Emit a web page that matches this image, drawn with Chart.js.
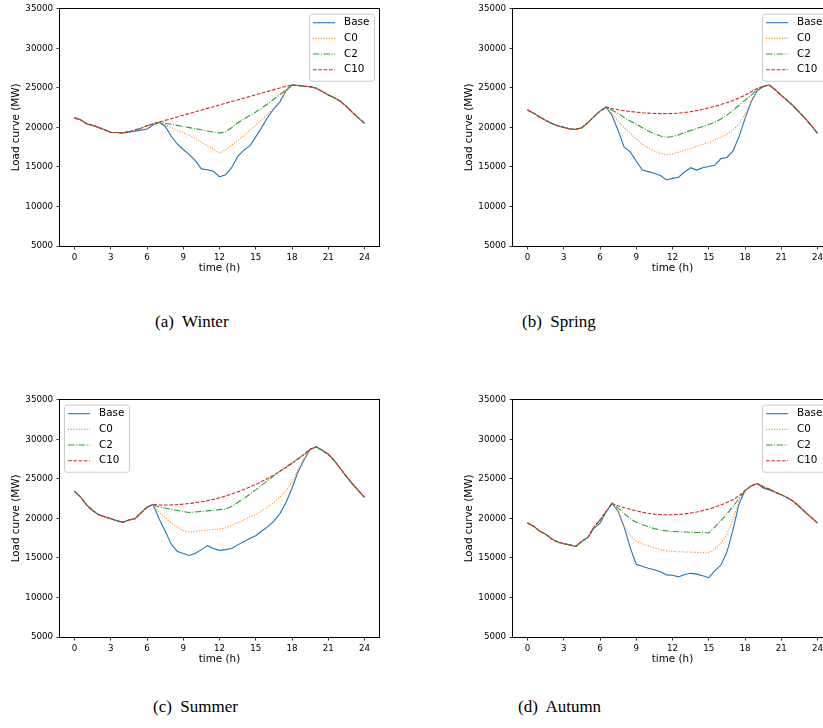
<!DOCTYPE html>
<html>
<head>
<meta charset="utf-8">
<script src="https://cdn.jsdelivr.net/npm/chart.js@4.4.0/dist/chart.umd.min.js"></script>
<style>
html,body{margin:0;padding:0;background:#fff;overflow:hidden;width:823px;height:728px;}
.panel{position:absolute;width:400px;height:290px;}
.panel canvas{display:block;}
.cap{position:absolute;font-family:"Liberation Serif","Times New Roman",serif;font-size:17px;line-height:17px;white-space:pre;color:#000;}
</style>
</head>
<body>
<div class="panel" style="left:0px;top:0px"><canvas id="cA" width="400" height="290"></canvas></div>
<div class="panel" style="left:453px;top:0px"><canvas id="cB" width="400" height="290"></canvas></div>
<div class="panel" style="left:0px;top:391px"><canvas id="cC" width="400" height="290"></canvas></div>
<div class="panel" style="left:453px;top:391px"><canvas id="cD" width="400" height="290"></canvas></div>
<div class="cap" style="left:155px;top:313px">(a)  Winter</div>
<div class="cap" style="left:522px;top:313px">(b)  Spring</div>
<div class="cap" style="left:153px;top:698px">(c)  Summer</div>
<div class="cap" style="left:518px;top:698px">(d)  Autumn</div>
<script>
// ---------------- DATA ----------------
const hours = [0,0.5,1,1.5,2,2.5,3,3.5,4,4.5,5,5.5,6,6.5,7,7.5,8,8.5,9,9.5,10,10.5,11,11.5,12,12.5,13,13.5,14,14.5,15,15.5,16,16.5,17,17.5,18,18.5,19,19.5,20,20.5,21,21.5,22,22.5,23,23.5,24];
const xTicks = [0,3,6,9,12,15,18,21,24];
const yTicks = [5000,10000,15000,20000,25000,30000,35000];
const seriesNames = ['Base','C0','C2','C10'];
const xTitle = 'time (h)';
const yTitle = 'Load curve (MW)';

// Winter
const winterBase = [21200,20950,20450,20250,19980,19700,19350,19350,19300,19400,19500,19650,19800,20300,20650,20150,18900,17900,17200,16550,15800,14750,14650,14450,13750,14000,14900,16300,17100,17650,18800,20000,21300,22350,23200,24600,25350,25300,25200,25150,24950,24550,24100,23750,23300,22650,21900,21200,20500];
const winterC0   = [21200,20950,20450,20250,19980,19700,19350,19350,19300,19450,19650,19900,20200,20450,20650,20330,19990,19650,19330,19000,18600,18150,17700,17250,16750,17150,17750,18350,18950,19600,20250,20950,21700,22450,23350,24750,25350,25300,25200,25150,24950,24550,24100,23750,23300,22650,21900,21200,20500];
const winterC2   = [21200,20950,20450,20250,19980,19700,19350,19350,19300,19450,19650,19900,20200,20450,20650,20530,20390,20250,20110,19970,19830,19690,19550,19410,19270,19450,19950,20550,21050,21500,21950,22450,22980,23550,24150,24750,25350,25300,25200,25150,24950,24550,24100,23750,23300,22650,21900,21200,20500];
const winterC10  = [21200,20950,20450,20250,19980,19700,19350,19350,19300,19450,19650,19900,20200,20450,20650,20880,21100,21320,21530,21750,21960,22180,22400,22610,22830,23040,23260,23470,23690,23900,24120,24330,24550,24770,24980,25200,25350,25300,25200,25150,24950,24550,24100,23750,23300,22650,21900,21200,20500];

// Spring
const springBase = [22200,21800,21300,20900,20500,20200,20000,19800,19750,19950,20600,21350,22050,22550,21500,19600,17500,16900,15750,14600,14400,14200,13900,13350,13550,13700,14350,14900,14600,14900,15050,15200,16050,16200,17000,18800,21100,23200,24600,25150,25350,24750,24050,23400,22700,21900,21100,20200,19250];
const springC0   = [22200,21800,21300,20900,20500,20200,20000,19800,19750,19950,20600,21350,22050,22550,21700,20800,20000,19250,18550,17850,17400,17000,16700,16550,16650,16850,17120,17350,17600,17850,18100,18400,18750,19150,19650,20400,21700,23250,24650,25150,25350,24750,24050,23400,22700,21900,21100,20200,19250];
const springC2   = [22200,21800,21300,20900,20500,20200,20000,19800,19750,19950,20600,21350,22050,22550,22150,21750,21250,20800,20400,19950,19550,19200,18900,18750,18850,19050,19350,19600,19850,20100,20350,20650,21050,21550,22150,22800,23450,24050,24750,25150,25350,24750,24050,23400,22700,21900,21100,20200,19250];
const springC10  = [22200,21800,21300,20900,20500,20200,20000,19800,19750,19950,20600,21350,22050,22550,22370,22220,22100,22000,21920,21850,21800,21760,21740,21730,21750,21800,21880,21990,22120,22280,22460,22660,22880,23120,23400,23720,24080,24480,24900,25200,25350,24750,24050,23400,22700,21900,21100,20200,19250];

// Summer
const summerBase = [23400,22700,21700,21000,20450,20200,19950,19700,19500,19800,19950,20700,21400,21750,19950,18400,16750,15850,15550,15300,15600,16050,16550,16200,15950,16050,16200,16650,17050,17450,17800,18400,18950,19650,20600,22000,23800,25900,27400,28700,29050,28600,28100,27300,26300,25300,24350,23500,22650];
const summerC0   = [23400,22700,21700,21000,20450,20200,19950,19700,19500,19800,19950,20700,21400,21750,20750,20100,19450,18900,18450,18250,18350,18450,18520,18580,18650,18800,19100,19450,19800,20150,20500,20950,21450,22000,22700,23500,24600,26200,27600,28700,29050,28600,28100,27300,26300,25300,24350,23500,22650];
const summerC2   = [23400,22700,21700,21000,20450,20200,19950,19700,19500,19800,19950,20700,21400,21750,21450,21300,21150,21000,20850,20750,20800,20880,20950,21030,21100,21180,21500,22000,22500,23050,23600,24200,24800,25400,25950,26500,27000,27550,28050,28700,29050,28600,28100,27300,26300,25300,24350,23500,22650];
const summerC10  = [23400,22700,21700,21000,20450,20200,19950,19700,19500,19800,19950,20700,21400,21750,21700,21680,21700,21740,21800,21880,21980,22100,22240,22400,22600,22830,23080,23350,23640,23950,24290,24650,25050,25480,25940,26430,26950,27500,28100,28750,29050,28600,28100,27300,26300,25300,24350,23500,22650];

// Autumn
const autumnBase = [19400,19000,18400,18000,17400,17000,16800,16650,16450,17100,17600,18750,19400,20800,21900,20900,18900,16300,14200,13950,13700,13500,13250,12850,12800,12600,12900,13050,12950,12750,12500,13350,14100,15700,18500,21800,23500,24100,24400,23850,23600,23300,23000,22600,22150,21500,20750,20100,19400];
const autumnC0   = [19400,19000,18400,18000,17400,17000,16800,16650,16450,17100,17600,18900,19800,20850,21900,20900,19000,17800,17100,16800,16520,16250,16050,15900,15820,15780,15760,15730,15700,15680,15650,16100,16850,17950,19800,22200,23500,24100,24400,24000,23700,23300,23000,22600,22150,21500,20750,20100,19400];
const autumnC2   = [19400,19000,18400,18000,17400,17000,16800,16650,16450,17100,17600,18900,19800,20850,21900,21300,20600,19950,19500,19200,18950,18700,18520,18420,18350,18300,18270,18240,18220,18200,18150,18900,19700,20550,21500,22500,23500,24100,24400,24000,23700,23300,23000,22600,22150,21500,20750,20100,19400];
const autumnC10  = [19400,19000,18400,18000,17400,17000,16800,16650,16450,17100,17600,18900,19800,20850,21900,21600,21350,21150,20950,20780,20640,20540,20480,20450,20460,20500,20570,20670,20800,20980,21180,21420,21700,22000,22350,22850,23500,24100,24400,24000,23700,23300,23000,22600,22150,21500,20750,20100,19400];

// ---------------- STYLE ----------------
const colors = ['#1f77b4','#ff7f0e','#2ca02c','#d62728'];
const dashes = [[], [1,1.65], [6.4,1.6,1,1.6], [3.7,1.6]];

const frameLegend = {
  id: 'frameLegend',
  afterDatasetsDraw(chart, args, opts) {
    const ctx = chart.ctx, a = chart.chartArea;
    ctx.save();
    // frame (all four spines)
    ctx.strokeStyle = '#000';
    ctx.lineWidth = 1;
    ctx.setLineDash([]);
    const l = Math.round(a.left) - 0.5, r = Math.round(a.right) + 0.5;
    const t = Math.round(a.top) - 0.5, b = Math.round(a.bottom) + 0.5;
    ctx.strokeRect(l, t, r - l, b - t);
    // legend
    const w = 65, h = 67;
    const L = opts.loc === 'left' ? a.left + 4 : a.right - 5 - w;
    const T = a.top + 5;
    ctx.beginPath();
    if (ctx.roundRect) ctx.roundRect(L + 0.5, T + 0.5, w, h, 2.5); else ctx.rect(L + 0.5, T + 0.5, w, h);
    ctx.fillStyle = 'rgba(255,255,255,0.8)';
    ctx.fill();
    ctx.strokeStyle = '#cccccc';
    ctx.lineWidth = 1;
    ctx.stroke();
    chart.data.datasets.forEach((ds, i) => {
      const y = T + 9 + i * 15.67;
      ctx.beginPath();
      ctx.strokeStyle = ds.borderColor;
      ctx.lineWidth = ds.borderWidth;
      ctx.setLineDash(ds.borderDash || []);
      ctx.moveTo(L + 4, y);
      ctx.lineTo(L + 26, y);
      ctx.stroke();
      ctx.setLineDash([]);
      ctx.fillStyle = '#000';
      ctx.font = '10.4px "DejaVu Sans"';
      ctx.textBaseline = 'middle';
      ctx.textAlign = 'left';
      ctx.fillText(ds.label, L + 35, y);
    });
    ctx.restore();
  }
};

function makeChart(id, series, loc) {
  const datasets = series.map((arr, k) => ({
    label: seriesNames[k],
    data: hours.map((hh, i) => ({x: hh, y: arr[i]})),
    borderColor: colors[k],
    borderWidth: 1.1,
    borderDash: dashes[k],
    pointRadius: 0,
    tension: 0,
    fill: false,
    order: 4 - k
  }));
  const tickFont = {family: 'DejaVu Sans', size: 8.7};
  const titleFont = {family: 'DejaVu Sans', size: 10.4};
  const grid = {display: true, drawOnChartArea: false, drawTicks: true, tickLength: 3.5, color: '#000', lineWidth: 0.8};
  return new Chart(document.getElementById(id), {
    type: 'line',
    data: {datasets},
    options: {
      responsive: false,
      maintainAspectRatio: false,
      devicePixelRatio: 1,
      animation: false,
      events: [],
      layout: {padding: {left: 0, right: 21, top: 8, bottom: 0}},
      plugins: {
        legend: {display: false},
        tooltip: {enabled: false},
        frameLegend: {loc}
      },
      scales: {
        x: {
          type: 'linear',
          min: -1.2, max: 25.2,
          grid, border: {display: false},
          afterBuildTicks: s => { s.ticks = xTicks.map(v => ({value: v})); },
          afterFit: s => { s.height = 44; },
          ticks: {color: '#000', font: tickFont, padding: 3, autoSkip: false, maxRotation: 0, callback: v => String(v)},
          title: {display: true, text: xTitle, color: '#000', font: titleFont, padding: {top: 0, bottom: 15.5}}
        },
        y: {
          type: 'linear',
          min: 5000, max: 35000,
          grid, border: {display: false},
          afterBuildTicks: s => { s.ticks = yTicks.map(v => ({value: v})); },
          afterFit: s => { s.width = 60; },
          ticks: {color: '#000', font: tickFont, padding: 3.5, autoSkip: false, callback: v => String(v)},
          title: {display: true, text: yTitle, color: '#000', font: titleFont, padding: {top: 10, bottom: 0}}
        }
      }
    },
    plugins: [frameLegend]
  });
}

makeChart('cA', [winterBase, winterC0, winterC2, winterC10], 'right');
makeChart('cB', [springBase, springC0, springC2, springC10], 'right');
makeChart('cC', [summerBase, summerC0, summerC2, summerC10], 'left');
makeChart('cD', [autumnBase, autumnC0, autumnC2, autumnC10], 'right');
</script>
</body>
</html>
